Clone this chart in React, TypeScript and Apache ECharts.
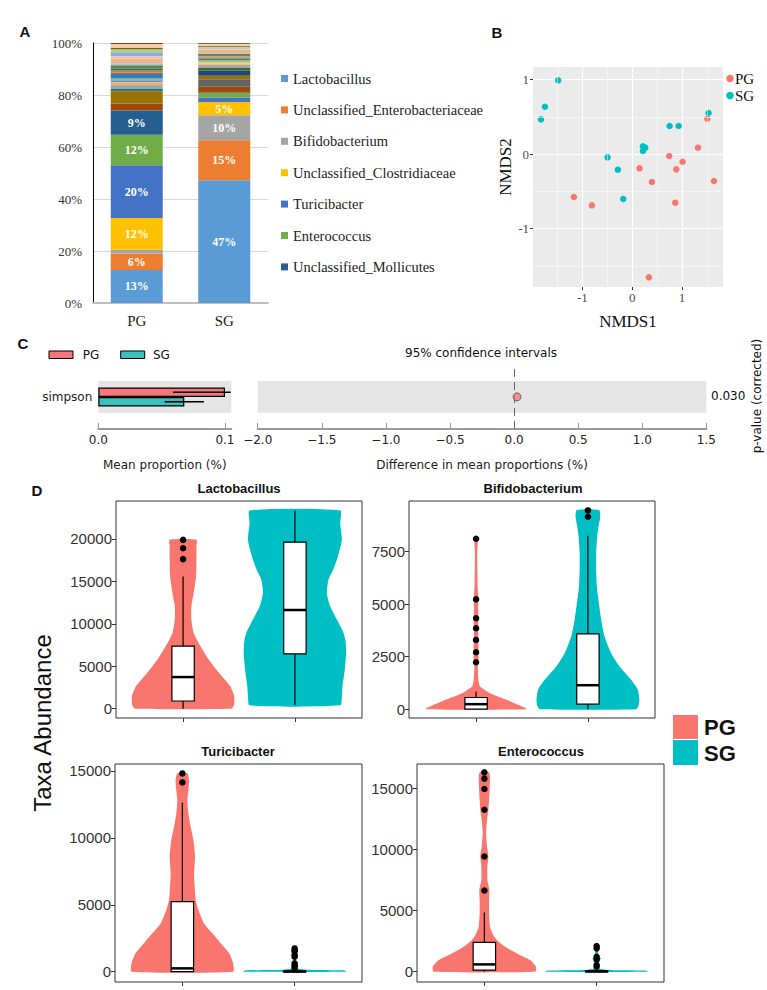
import React, { useEffect, useRef } from "react";
import * as echarts from "echarts";

// ---------------- Panel A: relative abundance ----------------
const groups = ["PG", "SG"];
const genusNames = [
  "Lactobacillus",
  "Unclassified_Enterobacteriaceae",
  "Bifidobacterium",
  "Unclassified_Clostridiaceae",
  "Turicibacter",
  "Enterococcus",
  "Unclassified_Mollicutes",
];
const genusPG = [12.7, 6.3, 1.5, 12.2, 20.3, 11.7, 9.3];
const genusSG = [47.2, 15.4, 9.6, 5.1, 1.7, 1.8, 0.2];
const otherPG = [2.5, 0.2, 4.7, 0.4, 0.5, 1.2, 0.6, 0.5, 0.4, 0.7, 0.6, 1.8, 0.5, 0.6, 0.4, 0.5, 1.3, 0.8, 1.8, 0.6, 0.3, 1.5, 1.2, 0.6, 1.4, 0.4];
const otherSG = [2.2, 2.9, 1.3, 1.9, 1.3, 0.6, 0.5, 0.4, 0.5, 0.3, 0.6, 0.5, 0.4, 0.3, 0.4, 0.3, 0.4, 0.3, 1.2, 0.3, 0.3, 0.3, 0.4, 0.3, 0.8, 0.3];
const stackColors = [
  "#5B9BD5", "#ED7D31", "#A5A5A5", "#FFC000", "#4472C4", "#70AD47", "#255E91",
  "#9E480E", "#636363", "#997300", "#264478", "#43682B", "#7CAFDD", "#F1975A",
  "#B7B7B7", "#FFCD33", "#698ED0", "#8CC168", "#327DC2", "#D26012", "#8B8B8B",
  "#CC9A00", "#335AA1", "#5A8A39", "#A2C4E8", "#F4B183", "#C9C9C9", "#FFD966",
  "#8FAADC", "#A9D18E", "#7F6000", "#F8CBAD", "#843C0C",
];

// ---------------- Panel B: NMDS ----------------
const nmdsPG = [
  [-1.17, -0.577], [-0.81, -0.689], [0.147, -0.192], [0.395, -0.376],
  [0.742, -0.027], [0.883, -0.206], [1.01, -0.103], [0.863, -0.653],
  [1.318, 0.085], [1.505, 0.474], [1.639, -0.362], [0.334, -1.655],
];
const nmdsSG = [
  [-1.485, 0.989], [-1.75, 0.635], [-1.83, 0.465], [-0.495, -0.045],
  [-0.288, -0.21], [-0.18, -0.604], [0.214, 0.103], [0.261, 0.085],
  [0.214, 0.04], [0.749, 0.376], [0.93, 0.376], [1.53, 0.55],
];
const nmdsTicks = [-1, 0, 1];
const nmdsMinor = [-1.5, -0.5, 0.5, 1.5];

// ---------------- Panel C: STAMP ----------------
const cCategory = ["simpson"];
const simpsonMean = [0.1, 0.0679];
const simpsonBar = [[0.059, 0.1045], [0.0524, 0.0834]];
const simpsonDiff = 0.023;
const simpsonP = "0.030";
const propTicks = [0, 0.1];

// ---------------- Panel D: violins ----------------
const taxa = ["Lactobacillus", "Bifidobacterium", "Turicibacter", "Enterococcus"];

const lactoPGViolin = [[0, 0.43], [400, 0.455], [1490, 0.457], [2660, 0.42], [4230, 0.32], [5790, 0.23], [7360, 0.155], [8920, 0.095], [10490, 0.074], [12050, 0.074], [13620, 0.095], [15580, 0.116], [17530, 0.12], [19100, 0.12], [19900, 0.12]];
const lactoSGViolin = [[390, 0.405], [1500, 0.42], [2660, 0.426], [4500, 0.445], [6580, 0.458], [8000, 0.452], [8920, 0.435], [10490, 0.375], [12050, 0.315], [13620, 0.286], [15190, 0.3], [16300, 0.34], [17530, 0.375], [19880, 0.42], [21840, 0.405], [23350, 0.405]];
const lactoBox = [[1, 0, 900, 3720, 7360, 15580], [2, 390, 6460, 11620, 19610, 23350]];
const lactoOut = [[1, 19880], [1, 18900], [1, 17610]];

const bifidoPGViolin = [[0, 0.452], [206, 0.378], [444, 0.274], [760, 0.125], [1078, 0.036], [1395, 0.021], [2030, 0.016], [2346, 0.022], [2740, 0.022], [3300, 0.02], [3850, 0.02], [4250, 0.022], [4800, 0.018], [5230, 0.022], [5800, 0.014], [6625, 0.012], [7420, 0.01], [8050, 0.016], [8150, 0.012]];
const bifidoSGViolin = [[0, 0.43], [200, 0.455], [444, 0.46], [920, 0.446], [1395, 0.387], [2030, 0.283], [2660, 0.208], [3455, 0.149], [4250, 0.119], [5040, 0.098], [5830, 0.08], [6625, 0.074], [7420, 0.074], [8210, 0.083], [8685, 0.095], [9160, 0.11], [9478, 0.1]];
const bifidoBox = [[1, 0, 5, 238, 555, 840], [2, 0, 238, 1141, 3582, 8258]];
const bifidoOut = [[1, 8115], [1, 5230], [1, 4327], [1, 3850], [1, 3297], [1, 2710], [1, 2235], [2, 9462], [2, 9161]];

const turiciPGViolin = [[0, 0.452], [622, 0.452], [1370, 0.417], [2117, 0.342], [2864, 0.268], [3610, 0.193], [4607, 0.143], [5354, 0.119], [6350, 0.11], [7346, 0.104], [8590, 0.113], [9836, 0.098], [10830, 0.074], [11830, 0.054], [12820, 0.045], [13570, 0.054], [14320, 0.06], [14815, 0.045]];
const turiciSGViolin = [[0, 0.458], [100, 0.44], [150, 0.1], [250, 0.02], [700, 0.01], [1200, 0.012], [1800, 0.008]];
const turiciBox = [[1, 0, 0, 249, 5229, 12625], [2, 0, 0, 10, 60, 150]];
const turiciOut = [[1, 14815], [1, 14143], [2, 1740], [2, 1620], [2, 1500], [2, 1250], [2, 1120], [2, 622], [2, 500], [2, 374], [2, 250]];

const enteroPGViolin = [[0, 0.452], [410, 0.46], [956, 0.407], [1500, 0.29], [2050, 0.185], [2600, 0.11], [3140, 0.071], [3690, 0.05], [4780, 0.042], [5870, 0.042], [6690, 0.045], [7510, 0.027], [8600, 0.027], [9425, 0.036], [10245, 0.024], [11340, 0.015], [12430, 0.024], [13250, 0.036], [14070, 0.042], [15160, 0.048], [15980, 0.05], [16310, 0.04]];
const enteroSGViolin = [[0, 0.455], [100, 0.44], [150, 0.1], [300, 0.015], [1000, 0.03], [1100, 0.04], [1250, 0.015], [2100, 0.01]];
const enteroBox = [[1, 0, 137, 600, 2404, 4836], [2, 0, 0, 20, 80, 190]];
const enteroOut = [[1, 16310], [1, 15790], [1, 14945], [1, 13250], [1, 9425], [1, 6640], [2, 2100], [2, 1912], [2, 1230], [2, 1010], [2, 546], [2, 410]];

const lactoTicks = [0, 5000, 10000, 15000, 20000];
const bifidoTicks = [0, 2500, 5000, 7500];
const turiciTicks = [0, 5000, 10000, 15000];
const enteroTicks = [0, 5000, 10000, 15000];

// ---------------- styling ----------------
const SERIF = "'Liberation Serif', 'Times New Roman', serif";
const MPL = "'DejaVu Sans', sans-serif";
const GG = "'Liberation Sans', Arial, sans-serif";
const PG_COL = "#F8766D";
const SG_COL = "#00BFC4";
const C_PG = "#F5777B";
const C_SG = "#3CC0BD";

const violinRender = (profile: number[][], cat: number) => (params: any, api: any) => {
  const left = profile.map(([v, w]) => api.coord([cat - w, v]));
  const right = profile
    .slice()
    .reverse()
    .map(([v, w]) => api.coord([cat + w, v]));
  return {
    type: "polygon",
    shape: { points: left.concat(right), smooth: 0.2 },
    style: { fill: api.visual("color"), stroke: "none" },
  };
};

const boxRender = (params: any, api: any) => {
  const x = api.value(0);
  const mn = api.value(1), q1 = api.value(2), md = api.value(3), q3 = api.value(4), mx = api.value(5);
  const hw = 0.1;
  const a = api.coord([x, mn]);
  const b = api.coord([x, q1]);
  const c = api.coord([x, q3]);
  const d = api.coord([x, mx]);
  const tl = api.coord([x - hw, q3]);
  const br = api.coord([x + hw, q1]);
  const ml = api.coord([x - hw, md]);
  const mr = api.coord([x + hw, md]);
  return {
    type: "group",
    children: [
      { type: "line", shape: { x1: a[0], y1: a[1], x2: b[0], y2: b[1] }, style: { stroke: "#000", lineWidth: 1.2 } },
      { type: "line", shape: { x1: c[0], y1: c[1], x2: d[0], y2: d[1] }, style: { stroke: "#000", lineWidth: 1.2 } },
      { type: "rect", shape: { x: tl[0], y: tl[1], width: br[0] - tl[0], height: Math.max(br[1] - tl[1], 1) }, style: { fill: "#fff", stroke: "#000", lineWidth: 1.2 } },
      { type: "line", shape: { x1: ml[0], y1: ml[1], x2: mr[0], y2: mr[1] }, style: { stroke: "#000", lineWidth: 2.5 } },
    ],
  };
};

const dPanels = [
  { grid: 4, left: 116, top: 501, width: 246, height: 217, min: -1100, max: 24460, ticks: lactoTicks, pg: lactoPGViolin, sg: lactoSGViolin, box: lactoBox, out: lactoOut },
  { grid: 5, left: 409, top: 501, width: 246, height: 217, min: -420, max: 9910, ticks: bifidoTicks, pg: bifidoPGViolin, sg: bifidoSGViolin, box: bifidoBox, out: bifidoOut },
  { grid: 6, left: 115, top: 764, width: 247, height: 218, min: -770, max: 15520, ticks: turiciTicks, pg: turiciPGViolin, sg: turiciSGViolin, box: turiciBox, out: turiciOut },
  { grid: 7, left: 417, top: 764, width: 247, height: 218, min: -840, max: 16990, ticks: enteroTicks, pg: enteroPGViolin, sg: enteroSGViolin, box: enteroBox, out: enteroOut },
];
const titlePos = [[239, 488], [533, 488], [238, 751], [541, 751]];

function buildOption(): any {
  const grids: any[] = [
    { left: 93, top: 43, width: 175, height: 260 },
    { left: 533, top: 67, width: 190, height: 220, show: true, backgroundColor: "#EBEBEB", borderWidth: 0 },
    { left: 98.3, top: 381, width: 133, height: 32, show: true, backgroundColor: "#E5E5E5", borderWidth: 0 },
    { left: 257.7, top: 367, width: 448.7, height: 62 },
  ];
  dPanels.forEach((p) =>
    grids.push({ left: p.left, top: p.top, width: p.width, height: p.height, show: true, borderColor: "#333", borderWidth: 1, backgroundColor: "#fff" })
  );

  const xAxes: any[] = [
    {
      gridIndex: 0, type: "category", data: groups,
      axisLine: { lineStyle: { color: "#BFBFBF", width: 2 } },
      axisTick: { show: false },
      axisLabel: { fontFamily: SERIF, fontSize: 15, color: "#222", margin: 10 },
    },
    {
      gridIndex: 1, type: "value", min: -1.99, max: 1.82,
      axisLine: { show: false, onZero: false },
      axisTick: { show: true, length: 3, customValues: nmdsTicks, lineStyle: { color: "#333" } },
      axisLabel: { customValues: nmdsTicks, fontFamily: SERIF, fontSize: 13, color: "#4D4D4D", margin: 4 },
      splitLine: { show: true, lineStyle: { color: "#fff", width: 1.1 } },
      name: "NMDS1", nameLocation: "middle", nameGap: 26,
      nameTextStyle: { fontFamily: SERIF, fontSize: 17, color: "#111" },
    },
    {
      gridIndex: 2, type: "value", min: 0, max: 0.105, offset: 16,
      axisLine: { show: true, onZero: false, lineStyle: { color: "#999", width: 2 } },
      axisTick: { show: true, inside: true, length: 6, customValues: propTicks, lineStyle: { color: "#999" } },
      axisLabel: { customValues: propTicks, formatter: (v: number) => v.toFixed(1), fontFamily: MPL, fontSize: 12, color: "#222", margin: 5 },
      splitLine: { show: false },
      name: "Mean proportion (%)", nameLocation: "middle", nameGap: 30,
      nameTextStyle: { fontFamily: MPL, fontSize: 12, color: "#222" },
    },
    {
      gridIndex: 3, type: "value", min: -2, max: 1.5, interval: 0.5,
      axisLine: { show: true, onZero: false, lineStyle: { color: "#999", width: 2 } },
      axisTick: { show: true, inside: true, length: 6, lineStyle: { color: "#999" } },
      axisLabel: { formatter: (v: number) => (v < 0 ? "\u2212" : "") + Math.abs(v).toFixed(1), fontFamily: MPL, fontSize: 12, color: "#222", margin: 5 },
      splitLine: { show: false },
      name: "Difference in mean proportions (%)", nameLocation: "middle", nameGap: 30,
      nameTextStyle: { fontFamily: MPL, fontSize: 12, color: "#222" },
    },
  ];
  const yAxes: any[] = [
    {
      gridIndex: 0, type: "value", min: 0, max: 100, interval: 20,
      axisLine: { show: true, onZero: false, lineStyle: { color: "#000", width: 1 } },
      axisTick: { show: false },
      axisLabel: { formatter: "{value}%", fontFamily: SERIF, fontSize: 13, color: "#333", margin: 11 },
      splitLine: { lineStyle: { color: "#D9D9D9" } },
    },
    {
      gridIndex: 1, type: "value", min: -1.785, max: 1.168, splitNumber: 3,
      axisLine: { show: false, onZero: false },
      axisTick: { show: true, length: 3, customValues: nmdsTicks, lineStyle: { color: "#333" } },
      axisLabel: { customValues: nmdsTicks, fontFamily: SERIF, fontSize: 13, color: "#4D4D4D", margin: 4 },
      splitLine: { show: true, lineStyle: { color: "#fff", width: 1.1 } },
    },
    {
      gridIndex: 2, type: "category", data: cCategory,
      axisLine: { show: false, onZero: false }, axisTick: { show: false },
      axisLabel: { fontFamily: MPL, fontSize: 12, color: "#222", margin: 6 },
    },
    { gridIndex: 3, type: "value", min: 0, max: 1, show: false, axisLine: { onZero: false } },
  ];
  dPanels.forEach((p) => {
    xAxes.push({
      gridIndex: p.grid, type: "value", min: 0.4, max: 2.6,
      axisLine: { show: false, onZero: false },
      axisTick: { show: true, length: 4, customValues: [1, 2], lineStyle: { color: "#333" } },
      axisLabel: { show: false },
      splitLine: { show: false },
    });
    yAxes.push({
      gridIndex: p.grid, type: "value", min: p.min, max: p.max,
      axisLine: { show: false, onZero: false },
      axisTick: { show: true, length: 4, customValues: p.ticks, lineStyle: { color: "#333" } },
      axisLabel: { customValues: p.ticks, formatter: (v: number) => String(Math.round(v)), fontFamily: GG, fontSize: 15, color: "#333", margin: 4 },
      splitLine: { show: false },
    });
  });

  const series: any[] = [];
  // Panel A
  const allNames = genusNames.concat(otherPG.map((_, i) => `Genus ${i + 8}`));
  const allPG = genusPG.concat(otherPG);
  const allSG = genusSG.concat(otherSG);
  allNames.forEach((name, i) => {
    series.push({
      type: "bar", name, stack: "abund", xAxisIndex: 0, yAxisIndex: 0,
      barWidth: 52, data: [allPG[i], allSG[i]],
      itemStyle: { color: stackColors[i] },
      label: i < genusNames.length
        ? {
            show: true, position: "inside", color: "#fff", fontWeight: "bold",
            fontFamily: SERIF, fontSize: 12,
            formatter: (p: any) => (p.value >= 4.5 ? Math.round(p.value) + "%" : ""),
          }
        : { show: false },
    });
  });
  // Panel B
  series.push({
    type: "scatter", name: "NMDS PG", xAxisIndex: 1, yAxisIndex: 1, data: nmdsPG,
    symbolSize: 6.5, itemStyle: { color: PG_COL, opacity: 1 }, z: 3,
    markLine: {
      silent: true, symbol: ["none", "none"], label: { show: false },
      lineStyle: { color: "#fff", width: 0.5, type: "solid" },
      data: nmdsMinor.map((v) => ({ xAxis: v })).concat(nmdsMinor.slice(0, 3).map((v) => ({ yAxis: v })) as any),
    },
  });
  series.push({
    type: "scatter", name: "NMDS SG", xAxisIndex: 1, yAxisIndex: 1, data: nmdsSG,
    symbolSize: 6.5, itemStyle: { color: SG_COL, opacity: 1 }, z: 3,
  });
  // Panel C left
  series.push({
    type: "bar", name: "PG mean", xAxisIndex: 2, yAxisIndex: 2, data: [simpsonMean[0]],
    barWidth: 9.5, barGap: "0%", itemStyle: { color: C_PG, borderColor: "#000", borderWidth: 1.2 },
  });
  series.push({
    type: "bar", name: "SG mean", xAxisIndex: 2, yAxisIndex: 2, data: [simpsonMean[1]],
    barWidth: 9.5, barGap: "0%", itemStyle: { color: C_SG, borderColor: "#000", borderWidth: 1.2 },
  });
  series.push({
    type: "custom", name: "std", xAxisIndex: 2, yAxisIndex: 2, z: 5,
    data: simpsonBar.map((r, i) => [r[0], r[1], i]),
    renderItem: (params: any, api: any) => {
      const lo = api.coord([api.value(0), 0]);
      const hi = api.coord([api.value(1), 0]);
      const off = (api.value(2) === 0 ? -1 : 1) * 4.75;
      return { type: "line", shape: { x1: lo[0], y1: lo[1] + off, x2: hi[0], y2: hi[1] + off }, style: { stroke: "#000", lineWidth: 1.3 } };
    },
  });
  // Panel C right
  series.push({
    type: "scatter", name: "difference", xAxisIndex: 3, yAxisIndex: 3,
    data: [[simpsonDiff, 0.518]], symbolSize: 8, z: 5,
    itemStyle: { color: C_PG, borderColor: "#333", borderWidth: 0.8 },
    markArea: {
      silent: true, itemStyle: { color: "#E5E5E5" },
      data: [[{ yAxis: 0.263 }, { yAxis: 0.774 }]],
    },
    markLine: {
      silent: true, symbol: ["none", "none"], label: { show: false },
      lineStyle: { color: "#666", width: 1, type: [8, 5] },
      data: [{ xAxis: 0 }],
    },
  });
  // Panel D
  dPanels.forEach((p, k) => {
    series.push({
      type: "custom", name: `${taxa[k]} PG violin`, xAxisIndex: p.grid, yAxisIndex: p.grid,
      data: [[1, 0]], itemStyle: { color: PG_COL }, renderItem: violinRender(p.pg, 1), clip: true, z: 2,
    });
    series.push({
      type: "custom", name: `${taxa[k]} SG violin`, xAxisIndex: p.grid, yAxisIndex: p.grid,
      data: [[2, 0]], itemStyle: { color: SG_COL }, renderItem: violinRender(p.sg, 2), clip: true, z: 2,
    });
    series.push({
      type: "custom", name: `${taxa[k]} box`, xAxisIndex: p.grid, yAxisIndex: p.grid,
      data: p.box, renderItem: boxRender, z: 3,
    });
    series.push({
      type: "scatter", name: `${taxa[k]} outliers`, xAxisIndex: p.grid, yAxisIndex: p.grid,
      data: p.out, symbolSize: 6.5, itemStyle: { color: "#000", opacity: 1 }, z: 4,
    });
  });

  const txt = (text: string, x: number, y: number, font: string, align = "center", extra: any = {}) => ({
    type: "text", x, y, ...extra,
    style: { text, font, fill: "#111", textAlign: align, textVerticalAlign: "middle" },
  });

  const graphic: any[] = [
    txt("A", 25, 31, `bold 15px ${GG}`),
    txt("B", 497, 32, `bold 15px ${GG}`),
    txt("C", 23, 343, `bold 15px ${GG}`),
    txt("D", 37, 490, `bold 15px ${GG}`),
    // B legend
    { type: "circle", shape: { cx: 730, cy: 78.5, r: 3.8 }, style: { fill: PG_COL } },
    { type: "circle", shape: { cx: 730, cy: 95.5, r: 3.8 }, style: { fill: SG_COL } },
    txt("PG", 735, 78.5, `15px ${SERIF}`, "left"),
    txt("SG", 735, 95.5, `15px ${SERIF}`, "left"),
    txt("NMDS2", 505, 167, `17px ${SERIF}`, "center", { rotation: Math.PI / 2 }),
    // C legend and labels
    { type: "rect", shape: { x: 49, y: 351, width: 24, height: 7.5 }, style: { fill: C_PG, stroke: "#000", lineWidth: 1 } },
    { type: "rect", shape: { x: 120.7, y: 351, width: 24, height: 7.5 }, style: { fill: C_SG, stroke: "#000", lineWidth: 1 } },
    txt("PG", 82.7, 354.5, `12px ${MPL}`, "left"),
    txt("SG", 153, 354.5, `12px ${MPL}`, "left"),
    txt("95% confidence intervals", 481, 353, `12px ${MPL}`),
    txt(simpsonP, 711, 396, `12px ${MPL}`, "left"),
    txt("p-value (corrected)", 757, 396, `12px ${MPL}`, "center", { rotation: Math.PI / 2 }),
    // D
    txt("Taxa Abundance", 42, 723, `24px ${GG}`, "center", { rotation: Math.PI / 2 }),
    { type: "rect", shape: { x: 673, y: 715, width: 25, height: 24 }, style: { fill: PG_COL } },
    { type: "rect", shape: { x: 673, y: 740, width: 25, height: 25 }, style: { fill: SG_COL } },
    txt("PG", 704, 727, `bold 22px ${GG}`, "left"),
    txt("SG", 704, 753, `bold 22px ${GG}`, "left"),
  ];
  taxa.forEach((t, k) => graphic.push(txt(t, titlePos[k][0], titlePos[k][1], `bold 13px ${GG}`)));

  return {
    animation: false,
    backgroundColor: "#fff",
    legend: {
      data: genusNames, orient: "vertical", left: 276, top: 65,
      itemWidth: 7, itemHeight: 7, itemGap: 14.4, icon: "rect", selectedMode: false,
      textStyle: { fontFamily: SERIF, fontSize: 14.5, color: "#222", lineHeight: 17 },
    },
    grid: grids,
    xAxis: xAxes,
    yAxis: yAxes,
    series,
    graphic,
  };
}

export default function App() {
  const ref = useRef<HTMLDivElement>(null);
  useEffect(() => {
    if (!ref.current) return;
    const chart = echarts.init(ref.current, undefined, { renderer: "svg" });
    chart.setOption(buildOption());
    return () => chart.dispose();
  }, []);
  return (
    <div
      ref={ref}
      style={{ position: "absolute", left: 0, top: 0, width: 767, height: 990 }}
    />
  );
}
